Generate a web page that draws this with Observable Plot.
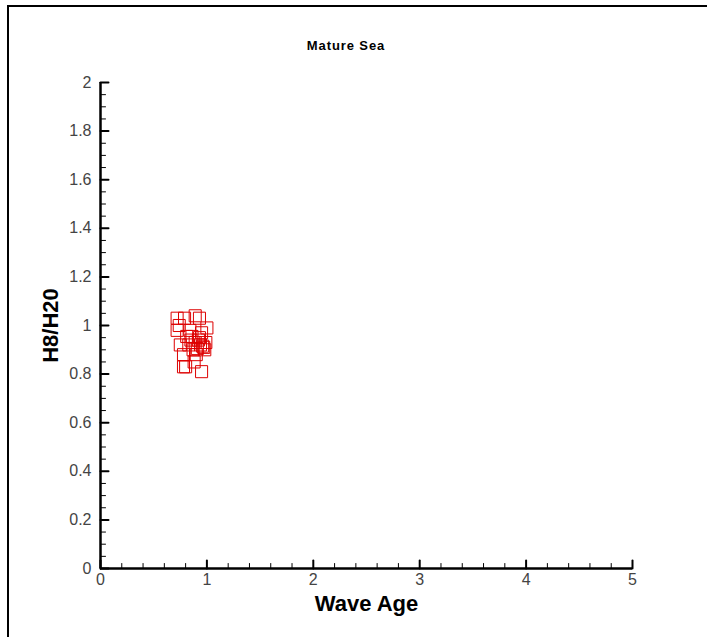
<!DOCTYPE html>
<html>
<head>
<meta charset="utf-8">
<script src="https://cdn.jsdelivr.net/npm/d3@7"></script>
<script src="https://cdn.jsdelivr.net/npm/@observablehq/plot@0.6"></script>
<style>
  html, body { margin: 0; padding: 0; background: #fff; }
  #wrap { position: relative; width: 707px; height: 637px; overflow: hidden; background: #fff; }
  #frame { position: absolute; left: 7px; top: 5px; right: 0; bottom: 0; border-top: 2px solid #000; border-left: 2px solid #000; }
  #title { position: absolute; left: 246px; width: 200px; top: 38px; text-align: center;
           font: bold 13px "Liberation Sans", Arial, sans-serif; letter-spacing: 0.9px; color: #000; }
  #chart { position: absolute; left: 0; top: 0; }
</style>
</head>
<body>
<div id="wrap">
  <div id="frame"></div>
  <div id="chart"></div>
  <div id="title">Mature Sea</div>
</div>
<script>
// Data
const waveAge = [0.72, 0.79, 0.89, 0.93, 0.74, 0.72, 1.00, 0.78, 0.78, 0.80, 0.88, 0.95,
                 0.85, 0.89, 0.94, 0.97, 0.83, 0.91, 0.86, 0.93, 0.99, 0.87, 0.81, 0.95,
                 0.84, 0.90, 0.98, 0.75, 0.92, 0.96];
const ratio   = [1.03, 1.03, 1.04, 1.03, 1.00, 0.98, 0.99, 0.88, 0.83, 0.83, 0.85, 0.81,
                 0.94, 0.93, 0.92, 0.91, 0.92, 0.905, 0.955, 0.95, 0.93, 0.90, 0.955, 0.97,
                 0.98, 0.88, 0.90, 0.92, 0.94, 0.915];
const xMajor = [0, 1, 2, 3, 4, 5];
const yMajor = [0, 0.2, 0.4, 0.6, 0.8, 1, 1.2, 1.4, 1.6, 1.8, 2];
const xMinor = d3.range(0, 5.0001, 0.2).filter(v => Math.abs(v - Math.round(v)) > 1e-6);
const yMinor = d3.range(0, 2.0001, 0.05).filter(v => Math.abs(v * 5 - Math.round(v * 5)) > 1e-6);

const points = waveAge.map((x, i) => ({x, y: ratio[i]}));

const tickShape = {draw(ctx, l) { ctx.moveTo(0, 0); ctx.lineTo(0, -l); }};

const chart = Plot.plot({
  width: 707,
  height: 637,
  marginLeft: 100,
  marginRight: 75,
  marginTop: 82,
  marginBottom: 69,
  x: {domain: [0, 5]},
  y: {domain: [0, 2]},
  style: {fontFamily: "'Liberation Sans', Arial, sans-serif", background: "transparent", color: "#000"},
  marks: [
    Plot.dot(points, {x: "x", y: "y", symbol: "square", r: 6.8, stroke: "#dd0000", strokeWidth: 1, fill: "none"}),
    // tick marks pointing inward
    Plot.vector(xMajor, {x: d => d, y: d => 0, length: 8, rotate: 0, anchor: "start", shape: tickShape, stroke: "#000", strokeWidth: 2}),
    Plot.vector(xMinor, {x: d => d, y: d => 0, length: 5, rotate: 0, anchor: "start", shape: tickShape, stroke: "#000", strokeWidth: 1}),
    Plot.vector(yMajor, {y: d => d, x: d => 0, length: 8, rotate: 90, anchor: "start", shape: tickShape, stroke: "#000", strokeWidth: 2}),
    Plot.vector(yMinor, {y: d => d, x: d => 0, length: 5, rotate: 90, anchor: "start", shape: tickShape, stroke: "#000", strokeWidth: 1}),
    Plot.ruleY([0], {stroke: "#000", strokeWidth: 2.5}),
    Plot.ruleX([0], {stroke: "#000", strokeWidth: 2.5}),
    Plot.axisX({ticks: xMajor, tickSize: 0, tickPadding: 5, fontSize: 16, fill: "#444", label: null, tickFormat: d => String(d)}),
    Plot.axisY({ticks: yMajor, tickSize: 0, tickPadding: 9, fontSize: 16, fill: "#444", label: null, tickFormat: d => String(d)}),
    Plot.text(["Wave Age"], {frameAnchor: "bottom", dy: 42, fontSize: 22, fontWeight: "bold", fill: "#000"}),
    Plot.text(["H8/H20"], {frameAnchor: "left", textAnchor: "middle", dx: -50, rotate: -90, fontSize: 22, fontWeight: "bold", fill: "#000"})
  ]
});
document.getElementById("chart").appendChild(chart);
</script>
</body>
</html>
